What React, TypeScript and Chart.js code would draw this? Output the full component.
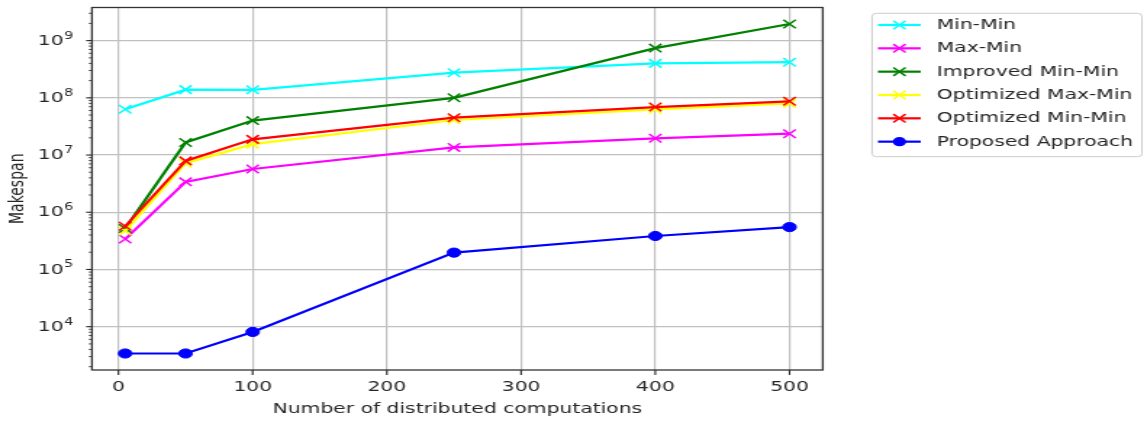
import React, { useEffect, useRef } from 'react';
import { Chart, registerables } from 'chart.js';

Chart.register(...registerables);

// ---- data ----
const xValues = [5, 50, 100, 250, 400, 500];
const minMin = [6.3e7, 1.39e8, 1.38e8, 2.75e8, 4.0e8, 4.2e8];
const maxMin = [3.4e5, 3.4e6, 5.7e6, 1.36e7, 1.96e7, 2.36e7];
const improvedMinMin = [5.2e5, 1.66e7, 4.0e7, 1.0e8, 7.4e8, 1.95e9];
const optimizedMaxMin = [4.7e5, 7.2e6, 1.55e7, 4.1e7, 6.3e7, 8.0e7];
const optimizedMinMin = [5.7e5, 7.9e6, 1.88e7, 4.5e7, 6.9e7, 8.7e7];
const proposedApproach = [3.4e3, 3.4e3, 8.1e3, 1.97e5, 3.85e5, 5.5e5];

const seriesNames = ['Min-Min', 'Max-Min', 'Improved Min-Min', 'Optimized Max-Min', 'Optimized Min-Min', 'Proposed Approach'];
const seriesValues = [minMin, maxMin, improvedMinMin, optimizedMaxMin, optimizedMinMin, proposedApproach];
const seriesColors = ['#00ffff', '#ff00ff', '#008000', '#ffff00', '#ff0000', '#0000ff'];
const seriesMarkers = ['x', 'x', 'x', 'x', 'x', 'o'];

const xTickValues = [0, 100, 200, 300, 400, 500];
const yDecades = [4, 5, 6, 7, 8, 9];
const xTitle = 'Number of distributed computations';
const yTitle = 'Makespan';

// ---- layout (logical canvas, stretched horizontally) ----
const SX = 1.45;
const W = 789;
const H = 425;
const FONT = "'DejaVu Sans', sans-serif";
const TEXT = '#262626';

const isDecade = (v: number) => {
  const l = Math.log10(v);
  return Math.abs(l - Math.round(l)) < 1e-9;
};

const decorPlugin = {
  id: 'decor',
  afterDraw(chart: any) {
    const { ctx, chartArea: a, scales } = chart;
    ctx.save();
    // tick marks
    ctx.strokeStyle = '#222';
    ctx.lineWidth = 1.1;
    xTickValues.forEach((v) => {
      const px = scales.x.getPixelForValue(v);
      ctx.beginPath();
      ctx.moveTo(px, a.bottom);
      ctx.lineTo(px, a.bottom + 4.9);
      ctx.stroke();
    });
    scales.y.ticks.forEach((t: any) => {
      const py = scales.y.getPixelForValue(t.value);
      const major = isDecade(t.value);
      ctx.lineWidth = major ? 1.1 : 0.8;
      ctx.beginPath();
      ctx.moveTo(a.left, py);
      ctx.lineTo(a.left - (major ? 4.0 : 2.2), py);
      ctx.stroke();
    });
    // y tick labels, mathtext style 10^n
    const rightX = 50.6;
    yDecades.forEach((e) => {
      const py = scales.y.getPixelForValue(Math.pow(10, e));
      ctx.fillStyle = TEXT;
      ctx.textBaseline = 'alphabetic';
      ctx.textAlign = 'left';
      ctx.font = `9.8px ${FONT}`;
      const es = String(e);
      const ew = ctx.measureText(es).width;
      ctx.font = `14px ${FONT}`;
      const bw = ctx.measureText('10').width;
      const x0 = rightX - ew - bw - 0.5;
      const base = py + 4.2;
      ctx.fillText('10', x0, base);
      ctx.font = `9.8px ${FONT}`;
      ctx.fillText(es, x0 + bw + 0.5, base - 6.2);
    });
    // frame
    ctx.strokeStyle = '#333';
    ctx.lineWidth = 1.3;
    ctx.strokeRect(a.left, a.top, a.right - a.left, a.bottom - a.top);

    // legend
    const bx = 601.4, by = 13.3, bw = 787.5 - 601.4, bh = 156.7 - 13.3, r = 3;
    ctx.beginPath();
    ctx.moveTo(bx + r, by);
    ctx.lineTo(bx + bw - r, by);
    ctx.quadraticCurveTo(bx + bw, by, bx + bw, by + r);
    ctx.lineTo(bx + bw, by + bh - r);
    ctx.quadraticCurveTo(bx + bw, by + bh, bx + bw - r, by + bh);
    ctx.lineTo(bx + r, by + bh);
    ctx.quadraticCurveTo(bx, by + bh, bx, by + bh - r);
    ctx.lineTo(bx, by + r);
    ctx.quadraticCurveTo(bx, by, bx + r, by);
    ctx.closePath();
    ctx.fillStyle = 'rgba(255,255,255,0.8)';
    ctx.fill();
    ctx.strokeStyle = '#cccccc';
    ctx.lineWidth = 1;
    ctx.stroke();

    seriesNames.forEach((name, i) => {
      const y = 25 + i * 23.33;
      const c = seriesColors[i];
      ctx.strokeStyle = c;
      ctx.lineWidth = 2.2;
      ctx.beginPath();
      ctx.moveTo(605.5, y);
      ctx.lineTo(635, y);
      ctx.stroke();
      const cx = 620.3;
      if (seriesMarkers[i] === 'o') {
        ctx.fillStyle = c;
        ctx.beginPath();
        ctx.arc(cx, y, 4.6, 0, Math.PI * 2);
        ctx.fill();
      } else {
        const d = 4.2;
        ctx.lineWidth = 1.5;
        ctx.beginPath();
        ctx.moveTo(cx - d, y - d);
        ctx.lineTo(cx + d, y + d);
        ctx.moveTo(cx - d, y + d);
        ctx.lineTo(cx + d, y - d);
        ctx.stroke();
      }
      ctx.fillStyle = TEXT;
      ctx.font = `14px ${FONT}`;
      ctx.textBaseline = 'middle';
      ctx.textAlign = 'left';
      ctx.fillText(name, 646, y + 0.5);
    });
    ctx.restore();
  },
};

export default function App() {
  const ref = useRef<HTMLCanvasElement>(null);

  useEffect(() => {
    const datasets = seriesNames.map((name, i) => ({
      label: name,
      data: xValues.map((x, j) => ({ x, y: seriesValues[i][j] })),
      borderColor: seriesColors[i],
      backgroundColor: seriesColors[i],
      borderWidth: 2.2,
      tension: 0,
      fill: false,
      pointStyle: seriesMarkers[i] === 'o' ? 'circle' : 'crossRot',
      pointRadius: seriesMarkers[i] === 'o' ? 4.6 : 6,
      pointBorderWidth: seriesMarkers[i] === 'o' ? 1 : 1.5,
      pointBorderColor: seriesColors[i],
      pointBackgroundColor: seriesColors[i],
      order: seriesNames.length - i,
    }));

    const chart = new Chart(ref.current!, {
      type: 'line',
      data: { datasets },
      plugins: [decorPlugin],
      options: {
        animation: false,
        responsive: false,
        maintainAspectRatio: false,
        devicePixelRatio: 1,
        layout: { padding: { left: 0, top: 5, right: W - 567.4, bottom: 0 } },
        plugins: { legend: { display: false }, tooltip: { enabled: false } },
        scales: {
          x: {
            type: 'linear',
            min: -19.75,
            max: 524.75,
            afterBuildTicks: (s: any) => {
              s.ticks = xTickValues.map((v) => ({ value: v }));
            },
            afterFit: (s: any) => {
              s.height = 55;
              s.paddingLeft = 0;
              s.paddingRight = 0;
            },
            ticks: {
              autoSkip: false,
              maxRotation: 0,
              padding: 9,
              color: TEXT,
              font: { family: FONT, size: 14 },
              callback: (v: any) => String(v),
            },
            grid: { color: '#c0c0c0', lineWidth: 1.2, drawTicks: false },
            border: { display: false },
            title: {
              display: true,
              text: xTitle,
              color: TEXT,
              font: { family: FONT, size: 14 },
              padding: { top: 0, bottom: 7 },
            },
          },
          y: {
            type: 'logarithmic',
            min: 1750,
            max: 3.79e9,
            afterBuildTicks: (s: any) => {
              const t: any[] = [];
              for (let e = 3; e <= 9; e++) {
                for (let m = 1; m <= 9; m++) {
                  const v = m * Math.pow(10, e);
                  if (v >= 1750 && v <= 3.79e9) t.push({ value: v });
                }
              }
              s.ticks = t;
            },
            afterFit: (s: any) => {
              s.width = 63.4;
              s.paddingTop = 0;
              s.paddingBottom = 0;
            },
            ticks: {
              display: false,
              autoSkip: false,
            },
            grid: {
              color: (ctx: any) => (ctx.tick && isDecade(ctx.tick.value) ? '#c0c0c0' : 'rgba(0,0,0,0)'),
              lineWidth: 1.2,
              drawTicks: false,
            },
            border: { display: false },
            title: {
              display: true,
              text: yTitle,
              color: TEXT,
              font: { family: FONT, size: 14 },
              padding: { top: 4, bottom: 0 },
            },
          },
        },
      },
    } as any);
    return () => chart.destroy();
  }, []);

  return (
    <div style={{ position: 'fixed', left: 0, top: 0, width: 1144, height: 425, overflow: 'hidden', background: '#fff' }}>
      <div style={{ position: 'absolute', left: 0, top: 0, width: W, height: H, transform: `scaleX(${SX})`, transformOrigin: '0 0' }}>
        <canvas ref={ref} width={W} height={H} style={{ display: 'block', width: W, height: H }} />
      </div>
    </div>
  );
}
